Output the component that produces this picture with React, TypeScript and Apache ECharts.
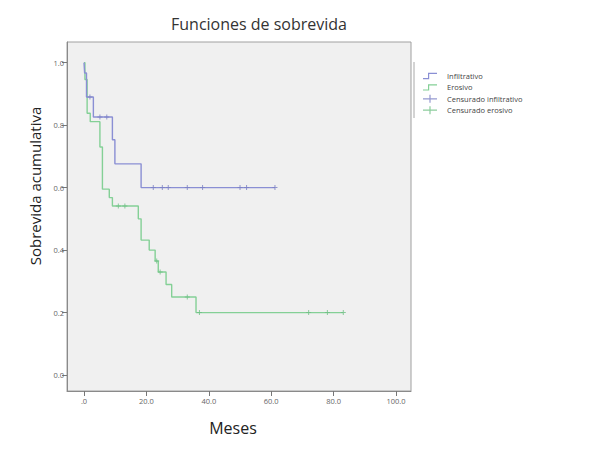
import React, { useEffect, useRef } from "react";
import * as echarts from "echarts";

// Kaplan-Meier steps (time in months, cumulative survival)
const infiltrativoTime = [0, 0.2, 0.8, 3.0, 9.1, 9.9, 18.3, 61.2];
const infiltrativoSurv = [1.0, 0.967, 0.89, 0.826, 0.753, 0.676, 0.6, 0.6];
const erosivoTime = [0, 0.3, 1.0, 2.0, 5.1, 5.9, 8.1, 9.1, 17.4, 18.3, 20.9, 22.8, 23.8, 26.3, 28.1, 35.9, 83.1];
const erosivoSurv = [1.0, 0.946, 0.838, 0.811, 0.73, 0.595, 0.568, 0.541, 0.5, 0.432, 0.4, 0.365, 0.33, 0.29, 0.25, 0.2, 0.2];

// Censored observations
const censInfTime = [1.9, 5.1, 7.3, 22.2, 25.1, 27.0, 33.1, 38.0, 50.0, 52.1, 61.2];
const censInfSurv = [0.89, 0.826, 0.826, 0.6, 0.6, 0.6, 0.6, 0.6, 0.6, 0.6, 0.6];
const censEroTime = [11.0, 13.1, 23.3, 24.4, 33.1, 37.0, 72.0, 78.0, 83.1];
const censEroSurv = [0.541, 0.541, 0.365, 0.33, 0.25, 0.2, 0.2, 0.2, 0.2];

const xTicks = [0, 20, 40, 60, 80, 100];
const yTicks = [0, 0.2, 0.4, 0.6, 0.8, 1.0];

const BLUE = "#8a8fd4";
const GREEN = "#84d096";

const stepIcon = "path://M0,6.2 L5,6.2 L5,1 L14,1 L14,2.2 L6.2,2.2 L6.2,7.4 L0,7.4 Z";
const plusIcon = "path://M0,3.4 L6.4,3.4 L6.4,0 L7.6,0 L7.6,3.4 L14,3.4 L14,4.6 L7.6,4.6 L7.6,8 L6.4,8 L6.4,4.6 L0,4.6 Z";
const plusSym = "path://M2,0 L3,0 L3,2 L5,2 L5,3 L3,3 L3,5 L2,5 L2,3 L0,3 L0,2 L2,2 Z";

const zip = (a: number[], b: number[]) => a.map((v, i) => [v, b[i]]);

export default function App() {
  const ref = useRef<HTMLDivElement>(null);
  useEffect(() => {
    if (!ref.current) return;
    const chart = echarts.init(ref.current, undefined, { renderer: "svg" });
    const font = "'Open Sans', 'Noto Sans', sans-serif";
    chart.setOption({
      animation: false,
      backgroundColor: "#ffffff",
      title: {
        text: "Funciones de sobrevida",
        left: 166,
        top: 11,
        textStyle: { fontFamily: font, fontSize: 16, fontWeight: "normal", color: "#333" },
      },
      grid: {
        left: 67,
        top: 42,
        right: 181,
        bottom: 58,
        show: true,
        backgroundColor: "#f0f0f0",
        borderColor: "#a0a0a0",
        borderWidth: 1,
      },
      legend: {
        orient: "vertical",
        left: 418,
        top: 67,
        itemWidth: 14,
        itemHeight: 8,
        itemGap: 3.4,
        textStyle: { fontFamily: font, fontSize: 7.5, color: "#444", padding: [0, 0, 0, 5] },
        data: [
          { name: "Infiltrativo", icon: stepIcon },
          { name: "Erosivo", icon: stepIcon },
          { name: "Censurado infiltrativo", icon: plusIcon },
          { name: "Censurado erosivo", icon: plusIcon },
        ],
      },
      xAxis: {
        type: "value",
        min: -5.45,
        max: 104.8,
        name: "Meses",
        nameLocation: "middle",
        nameGap: 29,
        nameTextStyle: { fontFamily: font, fontSize: 16, color: "#222", padding: [0, 12, 0, 0] },
        axisLine: { show: true, onZero: false, lineStyle: { color: "#8a8a8a" } },
        axisTick: { show: true, length: 5, customValues: xTicks, lineStyle: { color: "#777" } },
        axisLabel: {
          customValues: xTicks,
          fontFamily: font,
          fontSize: 7.5,
          color: "#666",
          margin: 6,
          formatter: (v: number) => (v === 0 ? ".0" : v.toFixed(1)),
        },
        splitLine: { show: false },
      },
      yAxis: {
        type: "value",
        min: -0.051,
        max: 1.066,
        axisLine: { show: true, onZero: false, lineStyle: { color: "#8a8a8a" } },
        axisTick: { show: true, length: 5, customValues: yTicks, lineStyle: { color: "#777" } },
        axisLabel: {
          customValues: yTicks,
          fontFamily: font,
          fontSize: 7.5,
          color: "#666",
          margin: 3,
          formatter: (v: number) => v.toFixed(1),
        },
        splitLine: { show: false },
      },
      graphic: [
        {
          type: "text",
          x: 35,
          y: 186,
          rotation: Math.PI / 2,
          style: {
            text: "Sobrevida acumulativa",
            fontFamily: font,
            fontSize: 15,
            fill: "#222",
            textAlign: "center",
            textVerticalAlign: "middle",
          },
        },
        {
          type: "line",
          shape: { x1: 414, y1: 62, x2: 414, y2: 118 },
          style: { stroke: "#a8a8a8", lineWidth: 1 },
        },
      ],
      series: [
        {
          name: "Infiltrativo",
          type: "line",
          step: "end",
          data: zip(infiltrativoTime, infiltrativoSurv),
          showSymbol: false,
          symbol: "none",
          color: BLUE,
          lineStyle: { color: BLUE, width: 1.4 },
          z: 3,
        },
        {
          name: "Erosivo",
          type: "line",
          step: "end",
          data: zip(erosivoTime, erosivoSurv),
          showSymbol: false,
          symbol: "none",
          color: GREEN,
          lineStyle: { color: GREEN, width: 1.4 },
          z: 2,
        },
        {
          name: "Censurado infiltrativo",
          type: "scatter",
          data: zip(censInfTime, censInfSurv),
          symbol: plusSym,
          symbolSize: 5,
          itemStyle: { color: "#7b80c4" },
          z: 4,
        },
        {
          name: "Censurado erosivo",
          type: "scatter",
          data: zip(censEroTime, censEroSurv),
          symbol: plusSym,
          symbolSize: 5,
          itemStyle: { color: "#6fbf84" },
          z: 4,
        },
      ],
    });
    return () => chart.dispose();
  }, []);
  return (
    <div
      ref={ref}
      style={{ position: "absolute", left: 0, top: 0, width: 592, height: 449 }}
    />
  );
}
